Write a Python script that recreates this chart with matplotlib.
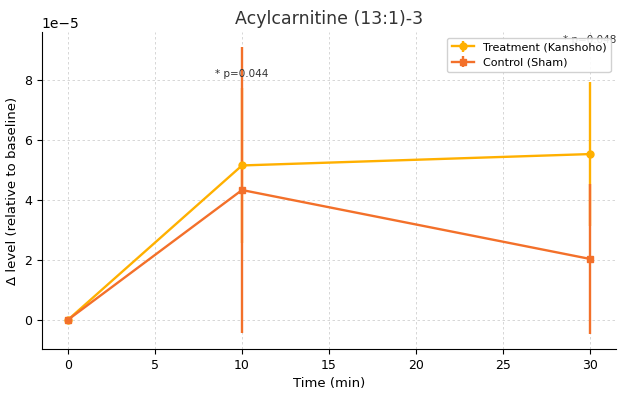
import matplotlib
matplotlib.use("Agg")
import matplotlib.pyplot as plt

# data (values in units of 1e-5, scaled below)
time_min = [0, 10, 30]
treat_mean = [0.0, 5.15, 5.53]
treat_err = [0.0, 2.6, 2.4]
ctrl_mean = [0.0, 4.33, 2.03]
ctrl_err = [0.0, 4.78, 2.5]
p_labels = ["* p=0.044", "* p=0.048"]
p_times = [10, 30]
p_heights = [8.2, 9.33]

scale = 1e-5
treat_color = "#FFB000"
ctrl_color = "#F3702A"

fig = plt.figure(figsize=(6.34, 3.96), dpi=100)
ax = fig.add_axes([0.066, 0.119, 0.906, 0.8])

ax.errorbar(time_min, [v * scale for v in treat_mean], yerr=[v * scale for v in treat_err],
            color=treat_color, marker="o", markersize=5, linewidth=1.7, elinewidth=1.7,
            capsize=0, label="Treatment (Kanshoho)")
ax.errorbar(time_min, [v * scale for v in ctrl_mean], yerr=[v * scale for v in ctrl_err],
            color=ctrl_color, marker="s", markersize=5, linewidth=1.7, elinewidth=1.7,
            capsize=0, label="Control (Sham)")

for lbl, t, h in zip(p_labels, p_times, p_heights):
    ax.text(t, h * scale, lbl, ha="center", va="center", fontsize=7.5, color="#333333")

ax.set_xlim(-1.5, 31.5)
ax.set_ylim(-0.97 * scale, 9.6 * scale)
ax.set_title("Acylcarnitine (13:1)-3", fontsize=12.5, color="#333333")
ax.set_xlabel("Time (min)", fontsize=9.5)
ax.set_ylabel("Δ level (relative to baseline)", fontsize=9.5)
ax.tick_params(labelsize=9)
ax.grid(True, linestyle=(0, (3, 3)), color="#d0d0d0", linewidth=0.6)
ax.spines["top"].set_visible(False)
ax.spines["right"].set_visible(False)
ax.legend(loc="upper right", fontsize=8, framealpha=0.9)

fig.savefig("out.png", dpi=100)
